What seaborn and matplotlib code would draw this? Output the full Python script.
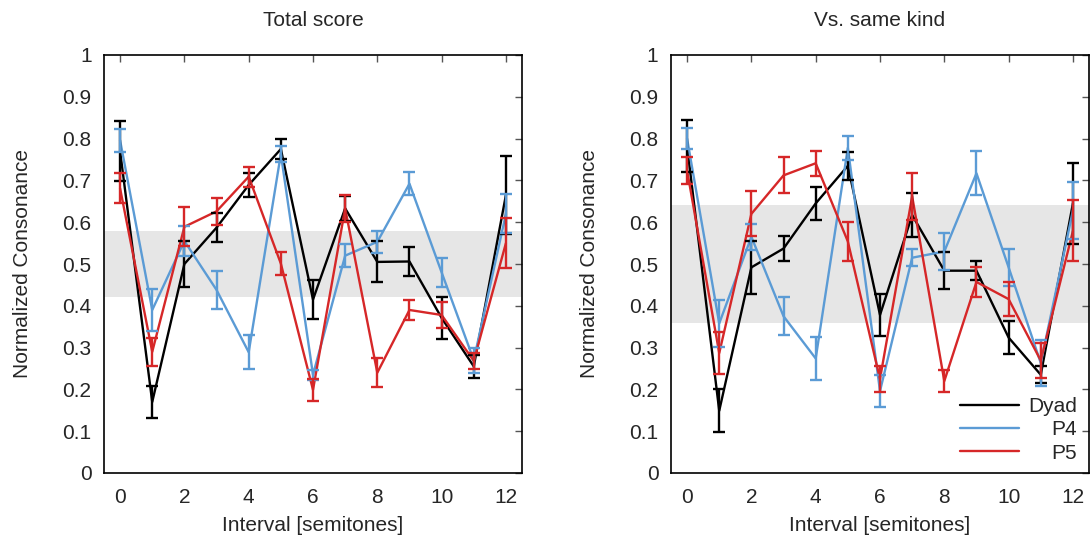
import matplotlib
matplotlib.use('Agg')
import matplotlib.pyplot as plt
import seaborn as sns
import numpy as np
import pandas as pd

# intervals in semitones
intervals = list(range(13))

# panel 1: total score
dyad_total = [0.77, 0.17, 0.50, 0.587, 0.689, 0.775, 0.415, 0.633, 0.505, 0.506, 0.371, 0.255, 0.665]
dyad_total_err = [0.072, 0.038, 0.056, 0.035, 0.028, 0.023, 0.047, 0.03, 0.049, 0.034, 0.051, 0.028, 0.094]
p4_total = [0.796, 0.39, 0.555, 0.438, 0.289, 0.763, 0.235, 0.52, 0.553, 0.692, 0.48, 0.27, 0.62]
p4_total_err = [0.027, 0.05, 0.035, 0.046, 0.041, 0.02, 0.012, 0.028, 0.027, 0.028, 0.035, 0.03, 0.047]
p5_total = [0.681, 0.29, 0.589, 0.626, 0.709, 0.501, 0.199, 0.633, 0.24, 0.39, 0.378, 0.268, 0.55]
p5_total_err = [0.036, 0.033, 0.047, 0.032, 0.024, 0.027, 0.026, 0.033, 0.035, 0.025, 0.03, 0.02, 0.059]

# panel 2: vs. same kind
dyad_same = [0.782, 0.149, 0.492, 0.537, 0.645, 0.735, 0.378, 0.617, 0.484, 0.484, 0.324, 0.235, 0.645]
dyad_same_err = [0.062, 0.051, 0.064, 0.029, 0.04, 0.034, 0.05, 0.053, 0.045, 0.023, 0.04, 0.02, 0.096]
p4_same = [0.80, 0.358, 0.565, 0.375, 0.274, 0.778, 0.196, 0.515, 0.53, 0.717, 0.492, 0.263, 0.628]
p4_same_err = [0.025, 0.057, 0.031, 0.046, 0.051, 0.029, 0.039, 0.02, 0.044, 0.053, 0.045, 0.054, 0.068]
p5_same = [0.724, 0.287, 0.62, 0.712, 0.741, 0.554, 0.225, 0.662, 0.22, 0.457, 0.416, 0.269, 0.579]
p5_same_err = [0.033, 0.051, 0.054, 0.043, 0.03, 0.046, 0.032, 0.056, 0.027, 0.037, 0.041, 0.042, 0.073]

# shaded band per panel
band_total = (0.42, 0.58)
band_same = (0.36, 0.64)

titles = ['Total score', 'Vs. same kind']
series_names = ['Dyad', 'P4', 'P5']
colors = {'Dyad': '#000000', 'P4': '#5b9bd5', 'P5': '#d62728'}

sns.set_style('white')
plt.rcParams['font.family'] = ['Liberation Sans', 'DejaVu Sans']
fs = 15

fig = plt.figure(figsize=(10.91, 5.47), dpi=100)
ax1 = fig.add_axes([104 / 1091, 74 / 547, 418 / 1091, 418 / 547])
ax2 = fig.add_axes([671 / 1091, 74 / 547, 418 / 1091, 418 / 547])

panels = [
    (ax1, [dyad_total, p4_total, p5_total], [dyad_total_err, p4_total_err, p5_total_err], band_total),
    (ax2, [dyad_same, p4_same, p5_same], [dyad_same_err, p4_same_err, p5_same_err], band_same),
]

lw = 1.7
for i, (ax, vals, errs, band) in enumerate(panels):
    ax.axhspan(band[0], band[1], color='#e6e6e6', lw=0, zorder=0)
    df = pd.DataFrame({
        'interval': intervals * 3,
        'value': vals[0] + vals[1] + vals[2],
        'series': sum([[n] * 13 for n in series_names], []),
    })
    sns.lineplot(data=df, x='interval', y='value', hue='series', hue_order=series_names,
                 palette=colors, linewidth=lw, ax=ax, legend=False, zorder=3)
    for name, v, e in zip(series_names, vals, errs):
        ax.errorbar(intervals, v, yerr=e, fmt='none', ecolor=colors[name],
                    elinewidth=lw, capsize=4.5, capthick=lw, zorder=3)

    ax.set_xlim(-0.5, 12.5)
    ax.set_ylim(0, 1)
    ax.set_xticks(range(0, 13, 2))
    ax.set_yticks(np.arange(0, 1.01, 0.1))
    ax.set_yticklabels([f'{t:g}' for t in np.round(np.arange(0, 1.01, 0.1), 1)])
    ax.tick_params(direction='in', length=5, width=1, color='#555555',
                   top=True, right=True, labelsize=fs, pad=9)
    ax.tick_params(axis='x', pad=10.5)
    for s in ax.spines.values():
        s.set_color('black')
        s.set_linewidth(1.2)
    ax.set_title(titles[i], fontsize=fs, pad=21)
    ax.set_xlabel('Interval [semitones]', fontsize=fs, labelpad=6.5)
    ax.set_ylabel('Normalized Consonance', fontsize=fs, labelpad=22)

# legend in the right panel, text aligned right
handles = [plt.Line2D([], [], color=colors[n], lw=lw) for n in series_names]
leg = ax2.legend(handles, series_names, loc='lower right', frameon=False, fontsize=fs,
                 handlelength=2.85, handletextpad=0.43, labelspacing=0.2,
                 borderaxespad=0, borderpad=0, bbox_to_anchor=(0.972, 0.025))
fig.canvas.draw()
renderer = fig.canvas.get_renderer()
widths = [t.get_window_extent(renderer).width for t in leg.get_texts()]
shift = max(widths)
for t, w in zip(leg.get_texts(), widths):
    t.set_position((shift - w, 0))

fig.savefig('out.png', dpi=100)
